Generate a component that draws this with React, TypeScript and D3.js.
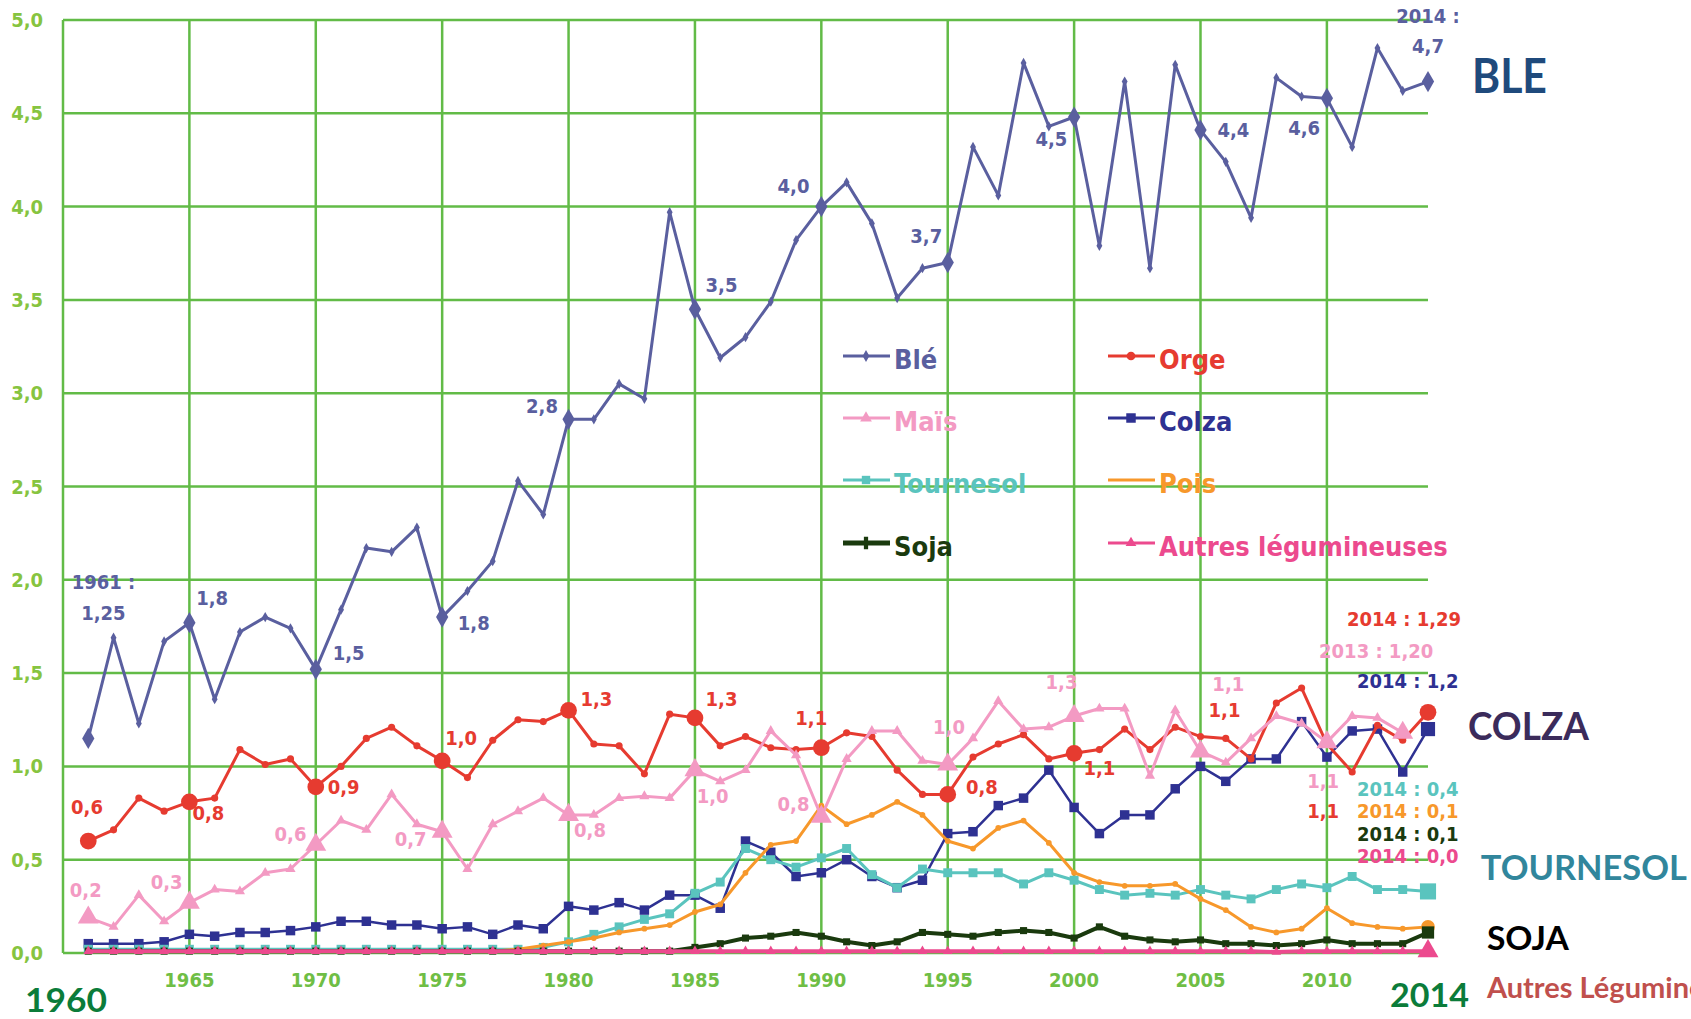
import { useEffect } from "react";
import * as d3 from "d3";

const years = d3.range(1961, 2015);
const maisYears = d3.range(1961, 2014);

const ble = [
  1.15, 1.69, 1.23, 1.67, 1.77, 1.36, 1.72, 1.8, 1.74, 1.52,
  1.84, 2.17, 2.15, 2.28, 1.8, 1.94, 2.1, 2.53, 2.35, 2.86,
  2.86, 3.05, 2.97, 3.97, 3.45, 3.19, 3.3, 3.49, 3.82, 4.0,
  4.13, 3.91, 3.51, 3.67, 3.7, 4.32, 4.06, 4.77, 4.43, 4.48,
  3.79, 4.67, 3.67, 4.76, 4.41, 4.24, 3.94, 4.69, 4.59, 4.58,
  4.32, 4.85, 4.62, 4.67,
];
const orge = [
  0.6, 0.66, 0.83, 0.76, 0.81, 0.83, 1.09, 1.01, 1.04, 0.89,
  1.0, 1.15, 1.21, 1.11, 1.03, 0.94, 1.14, 1.25, 1.24, 1.3,
  1.12, 1.11, 0.96, 1.28, 1.26, 1.11, 1.16, 1.1, 1.09, 1.1,
  1.18, 1.16, 0.98, 0.85, 0.85, 1.05, 1.12, 1.17, 1.04, 1.07,
  1.09, 1.2, 1.09, 1.21, 1.16, 1.15, 1.04, 1.34, 1.42, 1.12,
  0.97, 1.22, 1.14, 1.29,
];
const mais = [
  0.19, 0.14, 0.31, 0.17, 0.27, 0.34, 0.33, 0.43, 0.45, 0.58,
  0.71, 0.66, 0.85, 0.69, 0.65, 0.45, 0.69, 0.76, 0.83, 0.74,
  0.74, 0.83, 0.84, 0.83, 0.98, 0.92, 0.98, 1.19, 1.06, 0.73,
  1.04, 1.19, 1.19, 1.03, 1.01, 1.15, 1.35, 1.2, 1.21, 1.27,
  1.31, 1.31, 0.95, 1.3, 1.08, 1.02, 1.15, 1.27, 1.23, 1.13,
  1.27, 1.26, 1.18,
];
const colza = [
  0.05, 0.05, 0.05, 0.06, 0.1, 0.09, 0.11, 0.11, 0.12, 0.14,
  0.17, 0.17, 0.15, 0.15, 0.13, 0.14, 0.1, 0.15, 0.13, 0.25,
  0.23, 0.27, 0.23, 0.31, 0.31, 0.24, 0.6, 0.54, 0.41, 0.43,
  0.5, 0.41, 0.35, 0.39, 0.64, 0.65, 0.79, 0.83, 0.98, 0.78,
  0.64, 0.74, 0.74, 0.88, 1.0, 0.92, 1.04, 1.04, 1.24, 1.05,
  1.19, 1.2, 0.97, 1.2,
];
const tournesol = [
  0.02, 0.02, 0.02, 0.02, 0.02, 0.02, 0.02, 0.02, 0.02, 0.02,
  0.02, 0.02, 0.02, 0.02, 0.02, 0.02, 0.02, 0.02, 0.03, 0.06,
  0.1, 0.14, 0.18, 0.21, 0.32, 0.38, 0.56, 0.5, 0.46, 0.51,
  0.56, 0.42, 0.35, 0.45, 0.43, 0.43, 0.43, 0.37, 0.43, 0.39,
  0.34, 0.31, 0.32, 0.31, 0.34, 0.31, 0.29, 0.34, 0.37, 0.35,
  0.41, 0.34, 0.34, 0.33,
];
const pois = [
  0.01, 0.01, 0.01, 0.01, 0.01, 0.01, 0.01, 0.01, 0.01, 0.01,
  0.01, 0.01, 0.01, 0.01, 0.01, 0.01, 0.01, 0.02, 0.04, 0.06,
  0.08, 0.11, 0.13, 0.15, 0.22, 0.26, 0.43, 0.58, 0.6, 0.79,
  0.69, 0.74, 0.81, 0.74, 0.6, 0.56, 0.67, 0.71, 0.59, 0.43,
  0.38, 0.36, 0.36, 0.37, 0.29, 0.23, 0.14, 0.11, 0.13, 0.24,
  0.16, 0.14, 0.13, 0.14,
];
const soja = [
  0.01, 0.01, 0.01, 0.01, 0.01, 0.01, 0.01, 0.01, 0.01, 0.01,
  0.01, 0.01, 0.01, 0.01, 0.01, 0.01, 0.01, 0.01, 0.01, 0.01,
  0.01, 0.01, 0.01, 0.01, 0.03, 0.05, 0.08, 0.09, 0.11, 0.09,
  0.06, 0.04, 0.06, 0.11, 0.1, 0.09, 0.11, 0.12, 0.11, 0.08,
  0.14, 0.09, 0.07, 0.06, 0.07, 0.05, 0.05, 0.04, 0.05, 0.07,
  0.05, 0.05, 0.05, 0.11,
];
const autres = [
  0.01, 0.01, 0.01, 0.01, 0.01, 0.01, 0.01, 0.01, 0.01, 0.01,
  0.01, 0.01, 0.01, 0.01, 0.01, 0.01, 0.01, 0.01, 0.01, 0.01,
  0.01, 0.01, 0.01, 0.01, 0.01, 0.01, 0.01, 0.01, 0.01, 0.01,
  0.01, 0.01, 0.01, 0.01, 0.01, 0.01, 0.01, 0.01, 0.01, 0.01,
  0.01, 0.01, 0.01, 0.01, 0.01, 0.01, 0.01, 0.005, 0.01, 0.01,
  0.01, 0.01, 0.01, 0.01,
];

const yTicks = [0, 0.5, 1, 1.5, 2, 2.5, 3, 3.5, 4, 4.5, 5];
const xGrid = [1960, 1965, 1970, 1975, 1980, 1985, 1990, 1995, 2000, 2005, 2010];
const xTickLabels = [1965, 1970, 1975, 1980, 1985, 1990, 1995, 2000, 2005, 2010];
const fiveYears = [1961, 1965, 1970, 1975, 1980, 1985, 1990, 1995, 2000, 2005, 2010, 2014];

const C = {
  ble: "#5a5f9f",
  orge: "#e63b30",
  mais: "#f39ac3",
  colza: "#2e3192",
  tournesol: "#5ac4be",
  pois: "#f7982b",
  soja: "#1a3a0e",
  autres: "#ec4a8e",
};

const series = [
  { key: "ble", years, values: ble, color: C.ble, sym: d3.symbolDiamond, small: 30, big: 130, bigYears: fiveYears, w: 3 },
  { key: "colza", years, values: colza, color: C.colza, sym: d3.symbolSquare, small: 90, big: 200, bigYears: [2014], w: 2.5 },
  { key: "tournesol", years, values: tournesol, color: C.tournesol, sym: d3.symbolSquare, small: 80, big: 260, bigYears: [2014], w: 3 },
  { key: "pois", years, values: pois, color: C.pois, sym: d3.symbolCircle, small: 26, big: 150, bigYears: [2014], w: 3 },
  { key: "orge", years, values: orge, color: C.orge, sym: d3.symbolCircle, small: 40, big: 220, bigYears: [1961, 1965, 1970, 1975, 1980, 1985, 1990, 1995, 2000, 2014], w: 3 },
  { key: "mais", years: maisYears, values: mais, color: C.mais, sym: d3.symbolTriangle, small: 45, big: 190, bigYears: [1961, 1965, 1970, 1975, 1980, 1985, 1990, 1995, 2000, 2005, 2010, 2013], w: 3 },
  { key: "soja", years, values: soja, color: C.soja, sym: d3.symbolSquare, small: 50, big: 150, bigYears: [2014], w: 4 },
  { key: "autres", years, values: autres, color: C.autres, sym: d3.symbolTriangle, small: 40, big: 190, bigYears: [2014], w: 4 },
];

const legendItems = [
  { label: "Blé", color: C.ble, sym: d3.symbolDiamond, size: 40, col: 0, row: 0 },
  { label: "Orge", color: C.orge, sym: d3.symbolCircle, size: 60, col: 1, row: 0 },
  { label: "Maïs", color: C.mais, sym: d3.symbolTriangle, size: 60, col: 0, row: 1 },
  { label: "Colza", color: C.colza, sym: d3.symbolSquare, size: 90, col: 1, row: 1 },
  { label: "Tournesol", color: C.tournesol, sym: d3.symbolSquare, size: 70, col: 0, row: 2 },
  { label: "Pois", color: C.pois, sym: null, size: 0, col: 1, row: 2 },
  { label: "Soja", color: C.soja, sym: d3.symbolCross, size: 90, col: 0, row: 3 },
  { label: "Autres légumineuses", color: C.autres, sym: d3.symbolTriangle, size: 50, col: 1, row: 3 },
];

// value labels, anchored at [year, value] (centre of text)
const annotations = [
  { t: "1961 :", yr: 1961.6, v: 1.99, c: C.ble },
  { t: "1,25", yr: 1961.6, v: 1.82, c: C.ble },
  { t: "1,8", yr: 1965.9, v: 1.9, c: C.ble },
  { t: "1,5", yr: 1971.3, v: 1.61, c: C.ble },
  { t: "1,8", yr: 1976.25, v: 1.77, c: C.ble },
  { t: "2,8", yr: 1978.95, v: 2.93, c: C.ble },
  { t: "3,5", yr: 1986.05, v: 3.58, c: C.ble },
  { t: "4,0", yr: 1988.9, v: 4.11, c: C.ble },
  { t: "3,7", yr: 1994.15, v: 3.84, c: C.ble },
  { t: "4,5", yr: 1999.1, v: 4.36, c: C.ble },
  { t: "4,4", yr: 2006.3, v: 4.41, c: C.ble },
  { t: "4,6", yr: 2009.1, v: 4.42, c: C.ble },
  { t: "2014 :", yr: 2014.0, v: 5.02, c: C.ble },
  { t: "4,7", yr: 2014.0, v: 4.86, c: C.ble },
  { t: "0,6", yr: 1960.95, v: 0.78, c: C.orge },
  { t: "0,8", yr: 1965.75, v: 0.75, c: C.orge },
  { t: "0,9", yr: 1971.1, v: 0.89, c: C.orge },
  { t: "1,0", yr: 1975.75, v: 1.15, c: C.orge },
  { t: "1,3", yr: 1981.1, v: 1.36, c: C.orge },
  { t: "1,3", yr: 1986.05, v: 1.36, c: C.orge },
  { t: "1,1", yr: 1989.6, v: 1.26, c: C.orge },
  { t: "0,8", yr: 1996.35, v: 0.89, c: C.orge },
  { t: "1,1", yr: 2001.0, v: 0.99, c: C.orge },
  { t: "1,1", yr: 2005.95, v: 1.3, c: C.orge },
  { t: "1,1", yr: 2009.85, v: 0.76, c: C.orge },
  { t: "2014 : 1,29", yr: 2013.05, v: 1.79, c: C.orge },
  { t: "0,2", yr: 1960.9, v: 0.34, c: C.mais },
  { t: "0,3", yr: 1964.1, v: 0.38, c: C.mais },
  { t: "0,6", yr: 1969.0, v: 0.64, c: C.mais },
  { t: "0,7", yr: 1973.75, v: 0.61, c: C.mais },
  { t: "0,8", yr: 1980.85, v: 0.66, c: C.mais },
  { t: "1,0", yr: 1985.7, v: 0.84, c: C.mais },
  { t: "0,8", yr: 1988.9, v: 0.8, c: C.mais },
  { t: "1,0", yr: 1995.05, v: 1.21, c: C.mais },
  { t: "1,3", yr: 1999.5, v: 1.45, c: C.mais },
  { t: "1,1", yr: 2006.1, v: 1.44, c: C.mais },
  { t: "1,1", yr: 2009.85, v: 0.92, c: C.mais },
  { t: "2013 : 1,20", yr: 2011.95, v: 1.62, c: C.mais },
  { t: "2014 : 1,2", yr: 2013.2, v: 1.46, c: C.colza },
  { t: "2014 : 0,4", yr: 2013.2, v: 0.88, c: C.tournesol },
  { t: "2014 : 0,1", yr: 2013.2, v: 0.76, c: C.pois },
  { t: "2014 : 0,1", yr: 2013.2, v: 0.64, c: C.soja },
  { t: "2014 : 0,0", yr: 2013.2, v: 0.52, c: C.autres },
];

// big side captions, anchored at [year, value] (left, baseline)
const captions = [
  { t: "BLE", yr: 2015.74, v: 4.61, c: "#1f4a7c", size: 47, len: 75 },
  { t: "COLZA", yr: 2015.58, v: 1.14, c: "#3b2b5b", size: 39, len: 121 },
  { t: "TOURNESOL", yr: 2016.09, v: 0.39, c: "#31869c", size: 35, len: 206 },
  { t: "SOJA", yr: 2016.33, v: 0.016, c: "#000000", size: 32, len: 82 },
  { t: "Autres Légumineuses", yr: 2016.33, v: -0.24, c: "#c0504d", size: 29, len: 0 },
  { t: "1960", yr: 1958.5, v: -0.314, c: "#0b7c3a", size: 32, len: 82 },
  { t: "2014", yr: 2012.5, v: -0.29, c: "#0b7c3a", size: 33, len: 79 },
];

const W = 1691;
const H = 1019;
const COND = "'DejaVu Sans Condensed', 'Liberation Sans Narrow', sans-serif";
const GRID = "#62bb47";

export default function App() {
  useEffect(() => {
    document.body.style.margin = "0";
    document.body.style.overflow = "hidden";
  }, []);

  const x = d3.scaleLinear().domain([1960, 2014]).range([63, 1428]);
  const y = d3.scaleLinear().domain([0, 5]).range([953, 20]);

  const line = d3
    .line<[number, number]>()
    .x((d) => x(d[0]))
    .y((d) => y(d[1]));

  const legendX = [843, 1108];
  const legendY = [356, 418, 480, 543];

  return (
    <svg width={W} height={H} style={{ display: "block", background: "#fff" }}>
      {/* grid */}
      <g stroke={GRID} strokeWidth={2.5} fill="none">
        {yTicks.map((t) => (
          <line key={"h" + t} x1={x(1960)} x2={x(2014)} y1={y(t)} y2={y(t)} />
        ))}
        {xGrid.map((t) => (
          <line key={"v" + t} x1={x(t)} x2={x(t)} y1={y(0)} y2={y(5)} />
        ))}
      </g>

      {/* axis labels */}
      <g fontFamily={COND} fontWeight="bold" fontSize={20} style={{ fontStretch: "condensed" }}>
        {yTicks.map((t) => (
          <text key={"yl" + t} x={x(1960) - 20} y={y(t)} textAnchor="end" dominantBaseline="central" fill="#86c440">
            {t.toFixed(1).replace(".", ",")}
          </text>
        ))}
        {xTickLabels.map((t) => (
          <text key={"xl" + t} x={x(t)} y={y(0) + 27} textAnchor="middle" dominantBaseline="central" fill="#6fbe45">
            {t}
          </text>
        ))}
      </g>

      {/* legend */}
      <g fontFamily={COND} fontWeight="bold" fontSize={27} style={{ fontStretch: "condensed" }}>
        {legendItems.map((it) => {
          const lx = legendX[it.col];
          const ly = legendY[it.row];
          return (
            <g key={it.label}>
              <line x1={lx} x2={lx + 47} y1={ly} y2={ly} stroke={it.color} strokeWidth={it.label === "Soja" ? 5 : 3} />
              {it.sym && (
                <path
                  d={d3.symbol().type(it.sym).size(it.size)() || ""}
                  transform={`translate(${lx + 23},${ly})`}
                  fill={it.color}
                />
              )}
              <text x={lx + 51} y={ly + 3} dominantBaseline="central" fill={it.color}>
                {it.label}
              </text>
            </g>
          );
        })}
      </g>

      {/* series */}
      {series.map((s) => {
        const pts = s.years.map((yr, i) => [yr, s.values[i]] as [number, number]);
        return (
          <g key={s.key}>
            <path d={line(pts) || ""} fill="none" stroke={s.color} strokeWidth={s.w} strokeLinejoin="round" />
            {pts.map(([yr, v]) => {
              const big = s.bigYears.includes(yr);
              return (
                <path
                  key={yr}
                  d={d3.symbol().type(s.sym).size(big ? s.big : s.small)() || ""}
                  transform={`translate(${x(yr)},${y(v)})`}
                  fill={s.color}
                />
              );
            })}
          </g>
        );
      })}

      {/* value labels */}
      <g fontFamily={COND} fontWeight="bold" fontSize={20} style={{ fontStretch: "condensed" }}>
        {annotations.map((a, i) => (
          <text key={i} x={x(a.yr)} y={y(a.v)} textAnchor="middle" dominantBaseline="central" fill={a.c}>
            {a.t}
          </text>
        ))}
      </g>

      {/* side captions */}
      <g fontFamily="Lato, 'Open Sans', sans-serif" fontWeight="bold">
        {captions.map((c) => (
          <text
            key={c.t}
            x={x(c.yr)}
            y={y(c.v)}
            fontSize={c.size}
            fill={c.c}
            {...(c.len ? { textLength: c.len, lengthAdjust: "spacingAndGlyphs" } : {})}
          >
            {c.t}
          </text>
        ))}
      </g>
    </svg>
  );
}
